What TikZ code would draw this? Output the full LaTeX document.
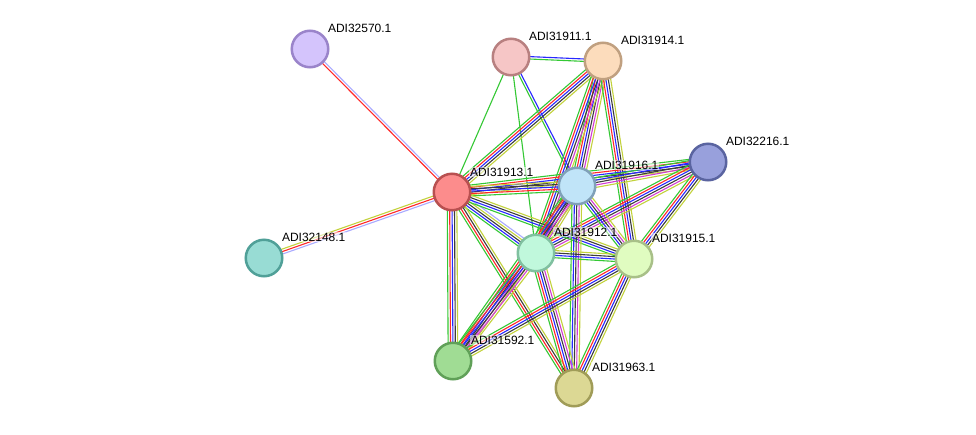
\documentclass[tikz,border=0pt]{standalone}
\usepackage{fontspec}
\setmainfont{Liberation Sans}
\usetikzlibrary{calc}
\pgfdeclarelayer{bg}
\pgfsetlayers{bg,main}
\definecolor{sgr}{RGB}{52,200,52}
\definecolor{sre}{RGB}{255,40,40}
\definecolor{sbl}{RGB}{40,40,255}
\definecolor{sbk}{RGB}{60,60,60}
\definecolor{smg}{RGB}{210,60,210}
\definecolor{syl}{RGB}{195,210,60}
\definecolor{slv}{RGB}{170,170,255}
\newcommand\sedge[3]{%
  \foreach \c [count=\n] in {#3} {\xdef\nc{\n}}%
  \foreach \c [count=\i] in {#3} {%
    \pgfmathsetmacro\off{(\i-(\nc+1)/2)*2.4}%
    \draw[draw=\c, line width=1.1pt] ($(#1.center)!\off pt!90:(#2.center)$) -- ($(#2.center)!\off pt!-90:(#1.center)$);
  }%
}
\tikzset{
  prot/.style={circle, minimum size=36.5pt, inner sep=0pt, line width=2.5pt},
  lbl/.style={anchor=base west, font=\fontsize{12}{14}\selectfont, fill=white, fill opacity=0.55, text opacity=1, inner sep=0.8pt},
}
\begin{document}
\begin{tikzpicture}[x=1pt,y=-1pt]
\useasboundingbox (0,0) rectangle (976,434);
% nodes
\node[prot, draw={rgb,255:red,154;green,132;blue,202}, fill={rgb,255:red,212;green,196;blue,252}] (A) at (310,49) {};
\node[prot, draw={rgb,255:red,184;green,128;blue,128}, fill={rgb,255:red,246;green,198;blue,198}] (B) at (511,57) {};
\node[prot, draw={rgb,255:red,192;green,160;blue,128}, fill={rgb,255:red,252;green,220;blue,188}] (C) at (603,61) {};
\node[prot, draw={rgb,255:red,90;green,100;blue,160}, fill={rgb,255:red,152;green,160;blue,220}] (D) at (708,162) {};
\node[prot, draw={rgb,255:red,184;green,80;blue,80}, fill={rgb,255:red,252;green,140;blue,140}] (E) at (452,192) {};
\node[prot, draw={rgb,255:red,128;green,160;blue,184}, fill={rgb,255:red,192;green,228;blue,248}] (F) at (577,186) {};
\node[prot, draw={rgb,255:red,80;green,160;blue,152}, fill={rgb,255:red,152;green,220;blue,212}] (G) at (264,258) {};
\node[prot, draw={rgb,255:red,128;green,192;blue,160}, fill={rgb,255:red,192;green,248;blue,220}] (H) at (536,253) {};
\node[prot, draw={rgb,255:red,168;green,192;blue,136}, fill={rgb,255:red,224;green,252;blue,192}] (I) at (634,259) {};
\node[prot, draw={rgb,255:red,96;green,160;blue,88}, fill={rgb,255:red,160;green,220;blue,148}] (J) at (453,361) {};
\node[prot, draw={rgb,255:red,160;green,156;blue,88}, fill={rgb,255:red,220;green,216;blue,148}] (K) at (574,388) {};
% edges
\begin{pgfonlayer}{bg}
\fill[white] (0,0) rectangle (976,434);
\sedge{A}{E}{sre,slv}
\sedge{E}{G}{syl,sre,slv}
\sedge{B}{C}{sgr,sbl}
\sedge{B}{E}{sgr}
\sedge{B}{H}{sgr}
\sedge{B}{F}{sgr,sbl}
\sedge{C}{E}{sgr,sre,sbl,sbk,syl}
\sedge{C}{F}{sgr,sre,sbl,sbk,smg,syl}
\sedge{C}{H}{sgr,sre,sbl,sbk,smg,syl}
\sedge{C}{I}{sgr,sre,sbl,sbk,syl}
\sedge{D}{E}{sgr,sre,sbl,sbk,syl}
\sedge{D}{F}{sgr,sbl,sbk,smg,syl}
\sedge{D}{H}{sgr,sre,sbl,sbk,smg,syl}
\sedge{D}{I}{sgr,sre,sbl,sbk,syl}
\sedge{E}{F}{sgr,sre,sbl,sbk,syl}
\sedge{E}{H}{sgr,sbl,sbk,syl,slv}
\sedge{E}{I}{sgr,sbl,sbk,syl}
\sedge{E}{J}{sgr,sre,sbl,sbk,syl}
\sedge{E}{K}{sgr,sre,sbk,syl}
\sedge{F}{H}{sgr,sre,sbl,sbk,smg,syl}
\sedge{F}{I}{sgr,sbl,sbk,smg,syl}
\sedge{F}{J}{sgr,sre,sbl,sbk,smg,syl}
\sedge{F}{K}{sgr,sbl,sbk,smg,syl}
\sedge{H}{I}{sgr,sbl,sbk,syl}
\sedge{H}{J}{sgr,sre,sbl,sbk,smg,syl}
\sedge{H}{K}{sgr,sre,sbl,sbk,smg,syl}
\sedge{I}{J}{sgr,sre,sbl,sbk,syl}
\sedge{I}{K}{sgr,sre,sbl,sbk,syl}
\end{pgfonlayer}
% labels
\node[lbl] (lA) at ($(A.center)+(17,-17)$) {ADI32570.1};
\node[lbl] (lB) at ($(B.center)+(17,-17)$) {ADI31911.1};
\node[lbl] (lC) at ($(C.center)+(17,-17)$) {ADI31914.1};
\node[lbl] (lD) at ($(D.center)+(17,-17)$) {ADI32216.1};
\node[lbl] (lE) at ($(E.center)+(17,-16)$) {ADI31913.1};
\node[lbl] (lF) at ($(F.center)+(17,-17)$) {ADI31916.1};
\node[lbl] (lG) at ($(G.center)+(17,-17)$) {ADI32148.1};
\node[lbl] (lH) at ($(H.center)+(17,-17)$) {ADI31912.1};
\node[lbl] (lI) at ($(I.center)+(17,-17)$) {ADI31915.1};
\node[lbl] (lJ) at ($(J.center)+(17,-17)$) {ADI31592.1};
\node[lbl] (lK) at ($(K.center)+(17,-17)$) {ADI31963.1};
\end{tikzpicture}
\end{document}
